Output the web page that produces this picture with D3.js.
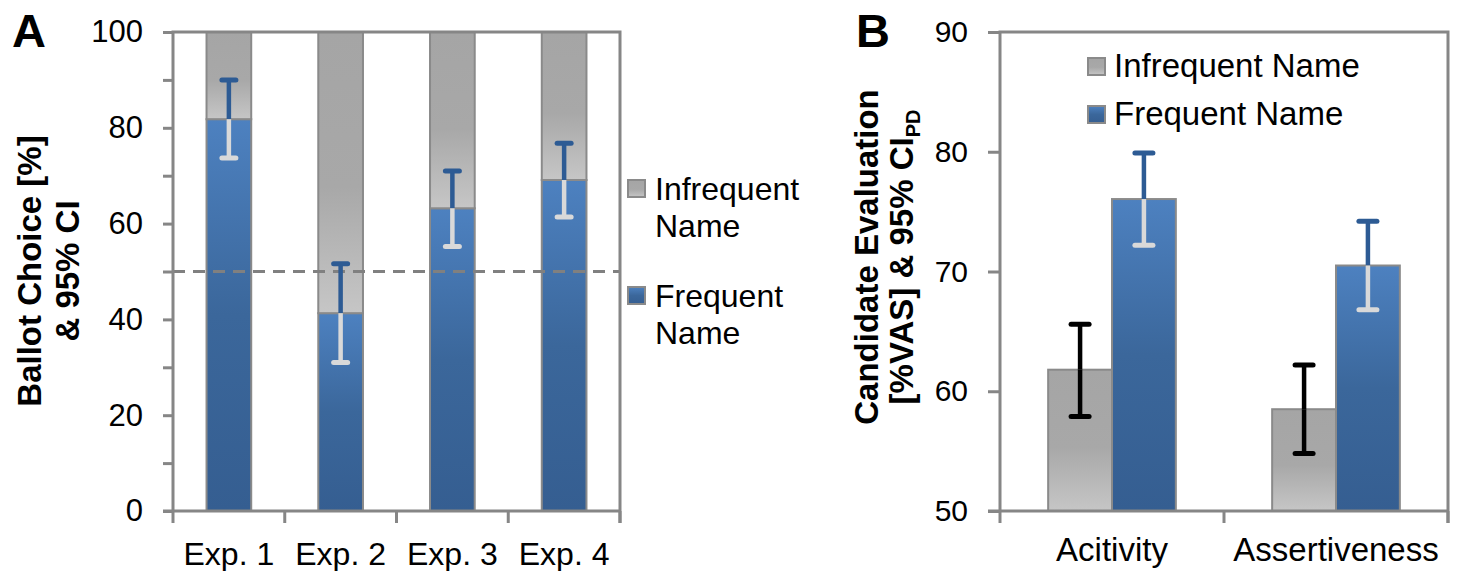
<!DOCTYPE html>
<html>
<head>
<meta charset="utf-8">
<script src="https://cdn.jsdelivr.net/npm/d3@7"></script>
<style>
  html, body { margin: 0; padding: 0; background: #fff; }
  svg { display: block; font-family: "Liberation Sans", Arial, Helvetica, sans-serif; }
</style>
</head>
<body>
<svg id="chart" width="1458" height="571"></svg>
<script>
// ---------- Panel A data ----------
const expCategories = ["Exp. 1", "Exp. 2", "Exp. 3", "Exp. 4"];
const frequentChoice = [81.8, 41.3, 63.2, 69.1];
const infrequentChoice = [18.2, 58.7, 36.8, 30.9];
const frequentChoiceLo = [73.7, 31.0, 55.2, 61.4];
const frequentChoiceHi = [90.0, 51.6, 71.0, 76.8];
const ticksA = [0, 10, 20, 30, 40, 50, 60, 70, 80, 90, 100];
const labelTicksA = [0, 20, 40, 60, 80, 100];
const chanceLevel = 50;

// ---------- Panel B data ----------
const traitCategories = ["Acitivity", "Assertiveness"];
const seriesNames = ["Infrequent Name", "Frequent Name"];
const infrequentEval = [61.8, 58.5];
const infrequentEvalLo = [57.9, 54.8];
const infrequentEvalHi = [65.6, 62.2];
const frequentEval = [76.05, 70.5];
const frequentEvalLo = [72.2, 66.8];
const frequentEvalHi = [79.9, 74.2];
const ticksB = [50, 60, 70, 80, 90];

const AXIS = "#868686";
const OUTLINE = "#8a8a8a";
const ERR_BLUE = "#2d5b94";
const ERR_LIGHT = "#d9d9d9";

const svg = d3.select("#chart");
const defs = svg.append("defs");

const gBlue = defs.append("linearGradient").attr("id", "gBlue")
  .attr("x1", 0).attr("y1", 0).attr("x2", 0).attr("y2", 1);
gBlue.append("stop").attr("offset", 0).attr("stop-color", "#4d81c0");
gBlue.append("stop").attr("offset", 0.5).attr("stop-color", "#3b679b");
gBlue.append("stop").attr("offset", 1).attr("stop-color", "#355e91");

const gGray = defs.append("linearGradient").attr("id", "gGray")
  .attr("x1", 0).attr("y1", 0).attr("x2", 0).attr("y2", 1);
gGray.append("stop").attr("offset", 0).attr("stop-color", "#a5a5a5");
gGray.append("stop").attr("offset", 0.55).attr("stop-color", "#a8a8a8");
gGray.append("stop").attr("offset", 1).attr("stop-color", "#c6c6c6");

// =============== PANEL A ===============
const xA = d3.scaleBand().domain(expCategories).range([173, 620])
  .paddingInner(0.6).paddingOuter(0.3);
const yA = d3.scaleLinear().domain([0, 100]).range([511, 32]);
const gA = svg.append("g");

const stackA = expCategories.map((c, i) => ({
  cat: c, f: frequentChoice[i], inf: infrequentChoice[i],
  lo: frequentChoiceLo[i], hi: frequentChoiceHi[i]
}));
gA.selectAll("rect.freq").data(stackA).join("rect")
  .attr("x", d => xA(d.cat)).attr("width", xA.bandwidth())
  .attr("y", d => yA(d.f)).attr("height", d => yA(0) - yA(d.f))
  .attr("fill", "url(#gBlue)").attr("stroke", OUTLINE).attr("stroke-width", 2);
gA.selectAll("rect.inf").data(stackA).join("rect")
  .attr("x", d => xA(d.cat)).attr("width", xA.bandwidth())
  .attr("y", d => yA(d.f + d.inf)).attr("height", d => yA(d.f) - yA(d.f + d.inf))
  .attr("fill", "url(#gGray)").attr("stroke", OUTLINE).attr("stroke-width", 2);

// dashed chance line
gA.append("line")
  .attr("x1", xA.range()[0]).attr("x2", xA.range()[1])
  .attr("y1", yA(chanceLevel)).attr("y2", yA(chanceLevel))
  .attr("stroke", "#808080").attr("stroke-width", 3).attr("stroke-dasharray", "12,8");

function errBar(g, cx, yv, ylo, yhi, capW, upColor, lowColor) {
  g.append("line").attr("x1", cx).attr("x2", cx).attr("y1", yv).attr("y2", yhi)
    .attr("stroke", upColor).attr("stroke-width", 4.5);
  g.append("line").attr("x1", cx - capW / 2).attr("x2", cx + capW / 2).attr("y1", yhi).attr("y2", yhi)
    .attr("stroke", upColor).attr("stroke-width", 5).attr("stroke-linecap", "round");
  g.append("line").attr("x1", cx).attr("x2", cx).attr("y1", yv).attr("y2", ylo)
    .attr("stroke", lowColor).attr("stroke-width", 4.5);
  g.append("line").attr("x1", cx - capW / 2).attr("x2", cx + capW / 2).attr("y1", ylo).attr("y2", ylo)
    .attr("stroke", lowColor).attr("stroke-width", 5).attr("stroke-linecap", "round");
}
stackA.forEach(d => {
  const cx = xA(d.cat) + xA.bandwidth() / 2;
  errBar(gA, cx, yA(d.f), yA(d.lo), yA(d.hi), 14, ERR_BLUE, ERR_LIGHT);
});

const axA = gA.append("g").attr("transform", `translate(${xA.range()[0]},0)`)
  .call(d3.axisLeft(yA).tickValues(ticksA).tickSize(10).tickPadding(20)
    .tickFormat(v => labelTicksA.includes(v) ? v : ""));
axA.select(".domain").remove();
axA.selectAll(".tick line").attr("stroke", AXIS).attr("stroke-width", 3);
axA.selectAll(".tick text").attr("font-size", 31).attr("fill", "#000")
  .attr("font-family", "Liberation Sans, Arial, sans-serif");

const [xa0, xa1] = xA.range();
const [ya0, ya1] = yA.range();
gA.append("path")
  .attr("d", `M${xa0},${ya0} L${xa0},${ya1} L${xa1},${ya1} L${xa1},${ya0 + 12}`)
  .attr("fill", "none").attr("stroke", AXIS).attr("stroke-width", 3);
gA.append("line").attr("x1", xa0 - 10).attr("x2", xa1).attr("y1", ya0).attr("y2", ya0)
  .attr("stroke", AXIS).attr("stroke-width", 3);
d3.range(expCategories.length + 1).forEach(i => {
  const xx = xa0 + i * xA.step();
  gA.append("line").attr("x1", xx).attr("x2", xx).attr("y1", ya0).attr("y2", ya0 + 12)
    .attr("stroke", AXIS).attr("stroke-width", 3);
});
const axAx = gA.append("g").attr("transform", `translate(0,${ya0})`)
  .call(d3.axisBottom(xA).tickSize(0).tickPadding(31));
axAx.select(".domain").remove();
axAx.selectAll(".tick text").attr("font-size", 32).attr("fill", "#000")
  .attr("font-family", "Liberation Sans, Arial, sans-serif");

// legend A
const legA = gA.append("g");
const legAItems = [
  { lines: ["Infrequent", "Name"], fill: "url(#gGray)", sq: 180, base: 200 },
  { lines: ["Frequent", "Name"], fill: "url(#gBlue)", sq: 287, base: 307 }
];
legAItems.forEach(it => {
  legA.append("rect").attr("x", 628).attr("y", it.sq).attr("width", 17).attr("height", 17)
    .attr("fill", it.fill).attr("stroke", OUTLINE).attr("stroke-width", 2);
  it.lines.forEach((t, k) => {
    legA.append("text").attr("x", 655).attr("y", it.base + k * 36.5)
      .attr("font-size", 32).text(t);
  });
});

const tA = gA.append("text").attr("transform", "translate(41,271) rotate(-90)")
  .attr("text-anchor", "middle").attr("font-weight", "bold").attr("font-size", 33);
tA.append("tspan").attr("x", 0).attr("dy", 0).text("Ballot Choice [%]");
tA.append("tspan").attr("x", 0).attr("dy", 38).text("& 95% CI");

svg.append("text").attr("x", 12).attr("y", 47).attr("font-size", 47).attr("font-weight", "bold").text("A");

// =============== PANEL B ===============
const x0 = d3.scaleBand().domain(traitCategories).range([1000, 1448])
  .paddingInner(0.43).paddingOuter(0.215);
const x1 = d3.scaleBand().domain(seriesNames).range([0, x0.bandwidth()]);
const yB = d3.scaleLinear().domain([50, 90]).range([511, 32]);
const gB = svg.append("g");

const barsB = [];
traitCategories.forEach((c, i) => {
  barsB.push({ cat: c, s: seriesNames[0], v: infrequentEval[i], lo: infrequentEvalLo[i], hi: infrequentEvalHi[i] });
  barsB.push({ cat: c, s: seriesNames[1], v: frequentEval[i], lo: frequentEvalLo[i], hi: frequentEvalHi[i] });
});
gB.selectAll("rect.b").data(barsB).join("rect")
  .attr("x", d => x0(d.cat) + x1(d.s)).attr("width", x1.bandwidth())
  .attr("y", d => yB(d.v)).attr("height", d => yB(50) - yB(d.v))
  .attr("fill", d => d.s === seriesNames[0] ? "url(#gGray)" : "url(#gBlue)")
  .attr("stroke", OUTLINE).attr("stroke-width", 2);
barsB.forEach(d => {
  const cx = x0(d.cat) + x1(d.s) + x1.bandwidth() / 2;
  if (d.s === seriesNames[0]) errBar(gB, cx, yB(d.v), yB(d.lo), yB(d.hi), 18, "#000", "#000");
  else errBar(gB, cx, yB(d.v), yB(d.lo), yB(d.hi), 18, ERR_BLUE, ERR_LIGHT);
});

const axB = gB.append("g").attr("transform", `translate(${x0.range()[0]},0)`)
  .call(d3.axisLeft(yB).tickValues(ticksB).tickSize(12).tickPadding(20));
axB.select(".domain").remove();
axB.selectAll(".tick line").attr("stroke", AXIS).attr("stroke-width", 3);
axB.selectAll(".tick text").attr("font-size", 30).attr("fill", "#000")
  .attr("font-family", "Liberation Sans, Arial, sans-serif");

const [xb0, xb1] = x0.range();
const [yb0, yb1] = yB.range();
gB.append("path")
  .attr("d", `M${xb0},${yb0} L${xb0},${yb1} L${xb1},${yb1} L${xb1},${yb0 + 12}`)
  .attr("fill", "none").attr("stroke", AXIS).attr("stroke-width", 3);
gB.append("line").attr("x1", xb0 - 12).attr("x2", xb1).attr("y1", yb0).attr("y2", yb0)
  .attr("stroke", AXIS).attr("stroke-width", 3);
d3.range(traitCategories.length + 1).forEach(i => {
  const xx = xb0 + i * x0.step();
  gB.append("line").attr("x1", xx).attr("x2", xx).attr("y1", yb0).attr("y2", yb0 + 12)
    .attr("stroke", AXIS).attr("stroke-width", 3);
});
const axBx = gB.append("g").attr("transform", `translate(0,${yb0})`)
  .call(d3.axisBottom(x0).tickSize(0).tickPadding(27));
axBx.select(".domain").remove();
axBx.selectAll(".tick text").attr("font-size", 33).attr("fill", "#000")
  .attr("font-family", "Liberation Sans, Arial, sans-serif");

// legend B
seriesNames.forEach((s, i) => {
  gB.append("rect").attr("x", 1088).attr("y", 58 + i * 48).attr("width", 17).attr("height", 17)
    .attr("fill", i === 0 ? "url(#gGray)" : "url(#gBlue)").attr("stroke", OUTLINE).attr("stroke-width", 2);
  gB.append("text").attr("x", 1114).attr("y", 77 + i * 48).attr("font-size", 33).text(s);
});

const tB = gB.append("text").attr("transform", "translate(878,257) rotate(-90)")
  .attr("text-anchor", "middle").attr("font-weight", "bold").attr("font-size", 33);
tB.append("tspan").attr("x", 0).attr("dy", 0).text("Candidate Evaluation");
const l2 = tB.append("tspan").attr("x", 0).attr("dy", 35);
l2.text("[%VAS] & 95% CI");
tB.append("tspan").attr("font-size", 20).attr("dy", 7).text("PD");

svg.append("text").attr("x", 856).attr("y", 47).attr("font-size", 47).attr("font-weight", "bold").text("B");
</script>
</body>
</html>
